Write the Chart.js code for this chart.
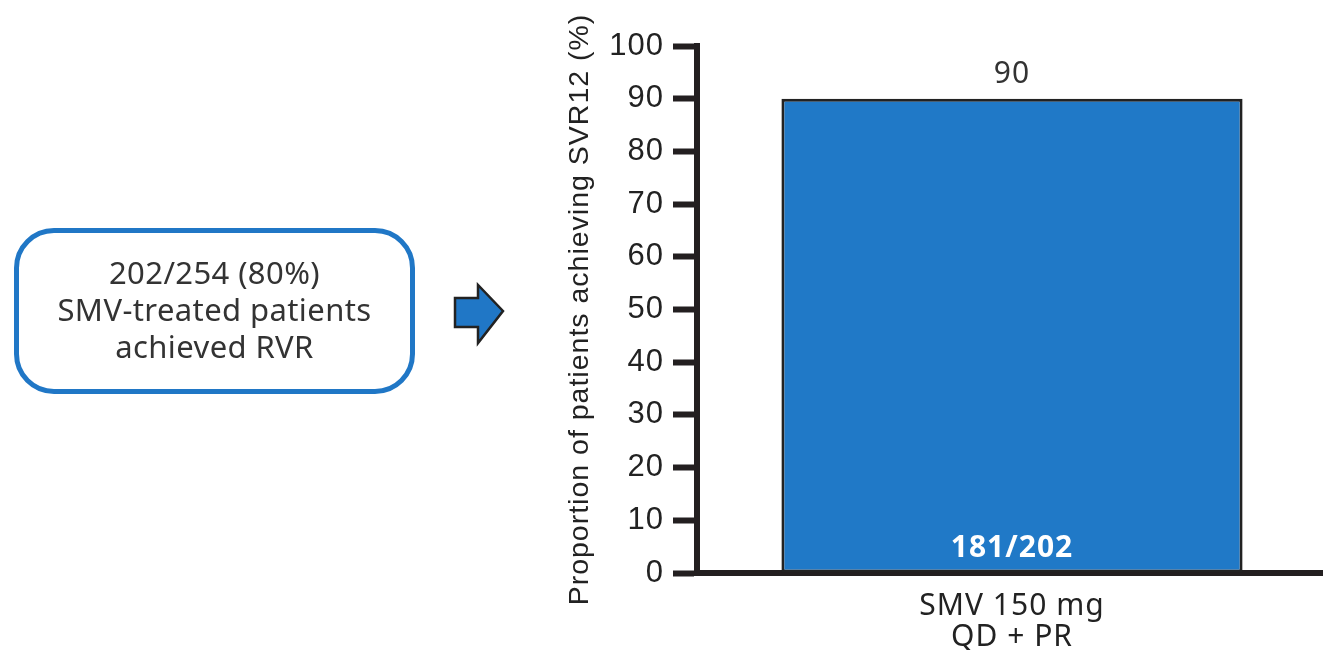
<!DOCTYPE html>
<html>
<head>
<meta charset="utf-8">
<script src="https://cdn.jsdelivr.net/npm/chart.js@4/dist/chart.umd.min.js"></script>
<style>
  html, body { margin: 0; padding: 0; background: #fff; }
  #wrap { position: relative; width: 1323px; height: 650px; overflow: hidden; }
  #chart { position: absolute; left: 0; top: 0; }
  .rvr-box {
    position: absolute; left: 14px; top: 230px; width: 391px; height: 152px;
    border: 5px solid #2077c6; border-radius: 40px; box-sizing: content-box;
    display: flex; flex-direction: column; justify-content: center; align-items: center;
    font-family: "Noto Sans", sans-serif; font-size: 31px; line-height: 37px; color: #333;
    letter-spacing: 0.4px; text-align: center; padding-bottom: 4px; margin-top: -2px;
  }
  .rvr-arrow { position: absolute; left: 452px; top: 282px; }
</style>
</head>
<body>
<div id="wrap">
  <canvas id="chart" width="1327" height="650"></canvas>
  <div class="rvr-box">
    <div>202/254 (80%)</div>
    <div>SMV-treated patients</div>
    <div>achieved RVR</div>
  </div>
  <svg class="rvr-arrow" width="56" height="66" viewBox="452 282 56 66">
    <polygon points="455,298 478,298 478,285 503,311 478,343 478,327 455,327"
             fill="#2077c6" stroke="#222" stroke-width="2.5" stroke-linejoin="miter"/>
  </svg>
</div>
<script>
// Regimen shown on the x axis (multi-line label)
const categories = [['SMV 150 mg', 'QD + PR']];
// Share of patients reaching SVR12, in percent
const svrPercent = [90];
// Responders / patients with RVR, printed inside the bar
const responderCounts = ['181/202'];
// Y axis range and step
const yMin = 0;
const yMax = 100;
const yStep = 10;

const ink = '#231f20';
const barBlue = '#2079c7';
const labelFont = '"Noto Sans", sans-serif';
const axisFont = '"Liberation Sans", Arial, sans-serif';

// Slightly open tracking for every text drawn on the canvas
const tracking = {
  id: 'tracking',
  beforeDraw(chart) { chart.ctx.letterSpacing = '1px'; }
};

// Writes the percentage above each bar and the count inside its base
const barLabels = {
  id: 'barLabels',
  afterDatasetsDraw(chart) {
    const ctx = chart.ctx;
    const meta = chart.getDatasetMeta(0);
    meta.data.forEach((bar, i) => {
      ctx.save();
      ctx.textAlign = 'center';
      ctx.textBaseline = 'middle';
      ctx.letterSpacing = '1px';
      ctx.fillStyle = '#333';
      ctx.font = '30px ' + labelFont;
      ctx.fillText(String(svrPercent[i]), bar.x, bar.y - 24);
      ctx.fillStyle = '#ffffff';
      ctx.font = 'bold 30px ' + labelFont;
      ctx.fillText(responderCounts[i], bar.x, bar.base - 24);
      ctx.restore();
    });
  }
};

function build() {
  new Chart(document.getElementById('chart'), {
    type: 'bar',
    data: {
      labels: categories,
      datasets: [{
        data: svrPercent,
        backgroundColor: barBlue,
        borderColor: '#222',
        borderWidth: 3,
        borderSkipped: false,
        barPercentage: 0.732,
        categoryPercentage: 1.0
      }]
    },
    options: {
      responsive: false,
      animation: false,
      devicePixelRatio: 1,
      layout: { padding: { left: 563, top: 46, right: 0, bottom: 0 } },
      plugins: {
        legend: { display: false },
        tooltip: { enabled: false }
      },
      scales: {
        x: {
          grid: { display: false, drawTicks: false },
          border: { display: true, color: ink, width: 6 },
          ticks: {
            color: '#222',
            padding: 18,
            font: { family: labelFont, size: 30, lineHeight: 1.04 }
          },
          afterFit(scale) { scale.height = 77; }
        },
        y: {
          min: yMin,
          max: yMax,
          ticks: {
            stepSize: yStep,
            color: '#222',
            padding: 9,
            font: { family: axisFont, size: 31 }
          },
          grid: {
            drawOnChartArea: false,
            drawTicks: true,
            tickLength: 24,
            tickWidth: 6,
            tickColor: ink
          },
          border: { display: true, color: ink, width: 6 },
          title: {
            display: true,
            text: 'Proportion of patients achieving SVR12 (%)',
            color: '#222',
            padding: 0,
            font: { family: axisFont, size: 28.5 }
          },
          afterFit(scale) { scale.width = 697 - 563; }
        }
      }
    },
    plugins: [tracking, barLabels]
  });
}

Promise.all([
  document.fonts.load('30px "Noto Sans"'),
  document.fonts.load('bold 30px "Noto Sans"'),
  document.fonts.load('30px "Liberation Sans"')
]).catch(() => {}).then(build);
</script>
</body>
</html>
